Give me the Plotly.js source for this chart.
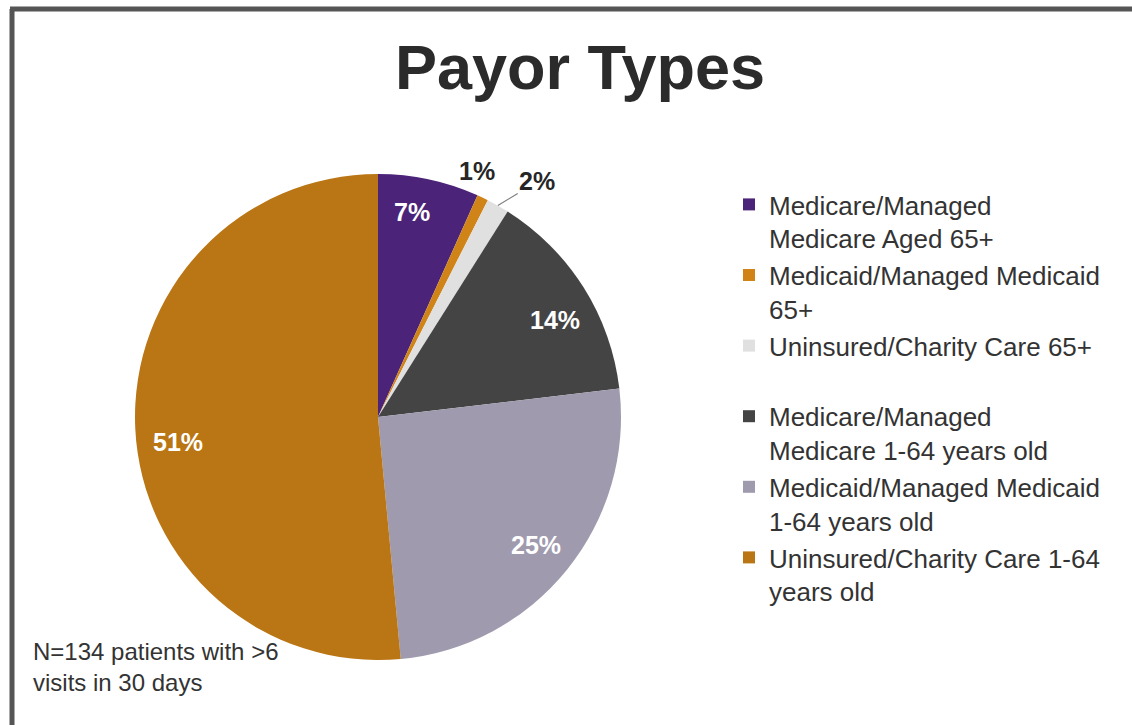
<!DOCTYPE html>
<html>
<head>
<meta charset="utf-8">
<script src="https://cdn.plot.ly/plotly-3.0.1.min.js"></script>
<style>
  html, body { margin: 0; padding: 0; background: #ffffff; }
  #chart { width: 1132px; height: 725px; }
</style>
</head>
<body>
<div id="chart"></div>
<script>
// Data (N = 134 patients)
const categories = [
  "Medicare/Managed<br>Medicare Aged 65+",
  "Medicaid/Managed Medicaid<br>65+",
  "Uninsured/Charity Care 65+<br> ",
  "Medicare/Managed<br>Medicare 1-64 years old",
  "Medicaid/Managed Medicaid<br>1-64 years old",
  "Uninsured/Charity Care 1-64<br>years old"
];
const patientCounts = [9, 1, 2, 19, 34, 69];
const percentLabels = ["7%", "1%", "2%", "14%", "25%", "51%"];
const sliceColors = ["#4b2378", "#d08418", "#e0e0e0", "#444444", "#9f9aae", "#ba7614"];

const W = 1132, H = 725;
const CX = 378, CY = 417, R = 243;           // pie centre and radius in pixels
const FONT = "Liberation Sans, Arial, sans-serif";

// label placement style: radius factor and angle nudge (deg) per slice, Excel-like
const labelRadius = [0.855, 1.09, 1.17, 0.83, 0.835, 0.83];
const labelNudge  = [-2.7, -3.5, 4.5, 3.5, 0, -4.5];

const trace = {
  type: "pie",
  labels: categories,
  values: patientCounts,
  textinfo: "none",
  sort: false,
  direction: "clockwise",
  rotation: 0,
  marker: { colors: sliceColors, line: { color: "#ffffff", width: 0 } },
  domain: { x: [(CX - R) / W, (CX + R) / W], y: [1 - (CY + R) / H, 1 - (CY - R) / H] },
  hoverinfo: "label+percent"
};

// slice labels placed from the data's own angles
const total = patientCounts.reduce((a, b) => a + b, 0);
const annotations = [];
let cum = 0;
patientCounts.forEach((v, i) => {
  const mid = (cum + v / 2) / total * 360;
  cum += v;
  const ang = (mid + labelNudge[i]) * Math.PI / 180;
  const rr = R * labelRadius[i];
  const px = CX + rr * Math.sin(ang), py = CY - rr * Math.cos(ang);
  const inside = labelRadius[i] < 1;
  if (i === 2) {
    // leader line from label to slice edge
    const a0 = mid * Math.PI / 180;
    const hx = CX + R * Math.sin(a0), hy = CY - R * Math.cos(a0);
    annotations.push({
      text: "<b>" + percentLabels[i] + "</b>",
      xref: "paper", yref: "paper",
      x: hx / W, y: 1 - hy / H,
      ax: px - hx, ay: py - hy,
      showarrow: true, arrowhead: 0, arrowwidth: 1.2, arrowcolor: "#7f7f7f", standoff: 0,
      font: { family: FONT, size: 25, color: "#262626" }
    });
  } else {
    annotations.push({
      text: "<b>" + percentLabels[i] + "</b>",
      xref: "paper", yref: "paper",
      x: px / W, y: 1 - py / H, xanchor: "center", yanchor: "middle",
      showarrow: false,
      font: { family: FONT, size: 25, color: inside ? "#ffffff" : "#262626" }
    });
  }
});

annotations.push({
  text: "N=134 patients with >6<br>visits in 30 days",
  xref: "paper", yref: "paper",
  x: 31 / W, xanchor: "left",
  y: 1 - 636 / H, yanchor: "top",
  align: "left",
  showarrow: false,
  font: { family: FONT, size: 24, color: "#333333" }
});

const layout = {
  width: W,
  height: H,
  margin: { l: 0, r: 0, t: 0, b: 0 },
  paper_bgcolor: "#ffffff",
  title: {
    text: "<b>Payor Types</b>",
    font: { family: FONT, size: 63, color: "#2b2b2b" },
    x: 580 / W, xanchor: "center",
    y: 1 - 67 / H, yanchor: "middle",
    xref: "container", yref: "container"
  },
  showlegend: true,
  legend: {
    x: 729 / W, xanchor: "left",
    y: 1 - 181 / H, yanchor: "top",
    valign: "top",
    font: { family: FONT, size: 26, color: "#333333" },
    bgcolor: "rgba(0,0,0,0)",
    traceorder: "normal"
  },
  annotations: annotations,
  shapes: [
    { type: "line", xref: "paper", yref: "paper", x0: 12 / W, x1: 12 / W, y0: -0.05, y1: 1 - 9 / H,
      line: { color: "#555555", width: 5 } },
    { type: "line", xref: "paper", yref: "paper", x0: 10 / W, x1: 1.05, y0: 1 - 9 / H, y1: 1 - 9 / H,
      line: { color: "#555555", width: 5 } }
  ]
};

Plotly.newPlot("chart", [trace], layout, { displayModeBar: false, staticPlot: true });
</script>
</body>
</html>
